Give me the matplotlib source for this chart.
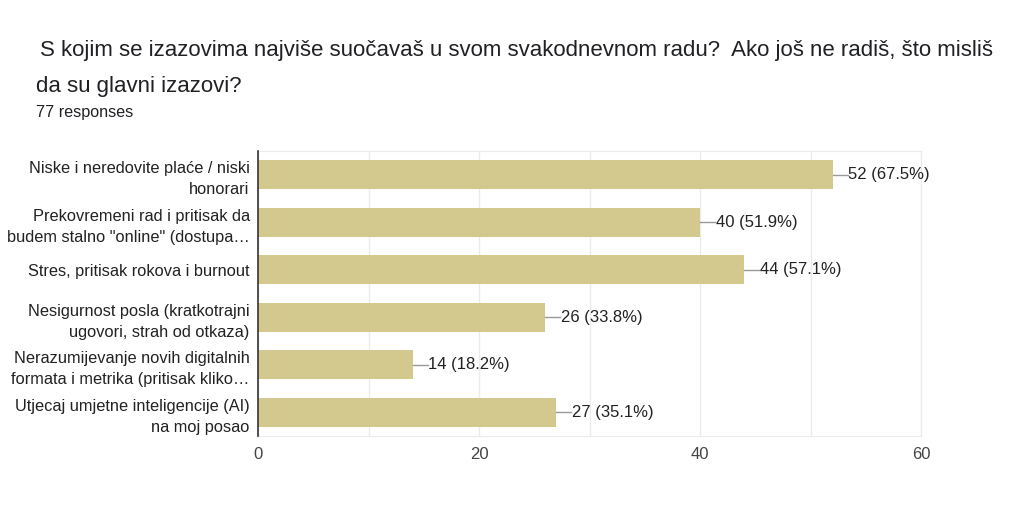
import matplotlib.pyplot as plt

categories = [
    "Niske i neredovite plaće / niski\nhonorari",
    "Prekovremeni rad i pritisak da\nbudem stalno \"online\" (dostupa…",
    "Stres, pritisak rokova i burnout",
    "Nesigurnost posla (kratkotrajni\nugovori, strah od otkaza)",
    "Nerazumijevanje novih digitalnih\nformata i metrika (pritisak kliko…",
    "Utjecaj umjetne inteligencije (AI)\nna moj posao",
]
counts = [52, 40, 44, 26, 14, 27]
percents = [67.5, 51.9, 57.1, 33.8, 18.2, 35.1]
x_ticks = [0, 20, 40, 60]

plt.rcParams["font.family"] = ["Liberation Sans", "DejaVu Sans"]

fig = plt.figure(figsize=(10.24, 5.2), dpi=100)
ax = fig.add_axes([0.252, 0.1615, 0.6475, 0.548])

ypos = list(range(len(categories)))
ax.barh(ypos, counts, height=0.61, color="#d3c98f", zorder=3)

# value labels with small connector lines
for y, c, p in zip(ypos, counts, percents):
    ax.plot([c, c + 1.35], [y, y], color="#999999", lw=1, zorder=3, clip_on=False)
    ax.text(c + 1.4, y, f"{c} ({p}%)", va="center", ha="left",
            fontsize=12, color="#222222", zorder=4)

ax.set_ylim(len(categories) - 0.5, -0.5)
ax.set_xlim(0, 60)
ax.set_yticks(ypos)
ax.set_yticklabels(categories, fontsize=11.8, color="#222222", linespacing=1.5)
ax.set_xticks(x_ticks)
ax.set_xticklabels([str(t) for t in x_ticks], fontsize=12, color="#444444")
ax.set_xticks(range(0, 61, 10), minor=True)
ax.tick_params(axis="both", length=0, which="both")
ax.tick_params(axis="x", pad=8)
ax.tick_params(axis="y", pad=6)
ax.grid(axis="x", which="both", color="#ebebeb", lw=1, zorder=0)

for side in ["top", "right", "bottom"]:
    ax.spines[side].set_color("#ebebeb")
ax.spines["left"].set_color("#333333")
ax.spines["left"].set_linewidth(1.2)
ax.spines["left"].set_zorder(5)

fig.text(0.039, 0.902,
         "S kojim se izazovima najviše suočavaš u svom svakodnevnom radu?  Ako još ne radiš, što misliš",
         fontsize=16, color="#202124", va="center")
fig.text(0.035, 0.834, "da su glavni izazovi?", fontsize=16, color="#202124", va="center")
fig.text(0.035, 0.783, "77 responses", fontsize=11.6, color="#202124", va="center")

fig.savefig("out.png", dpi=100)
